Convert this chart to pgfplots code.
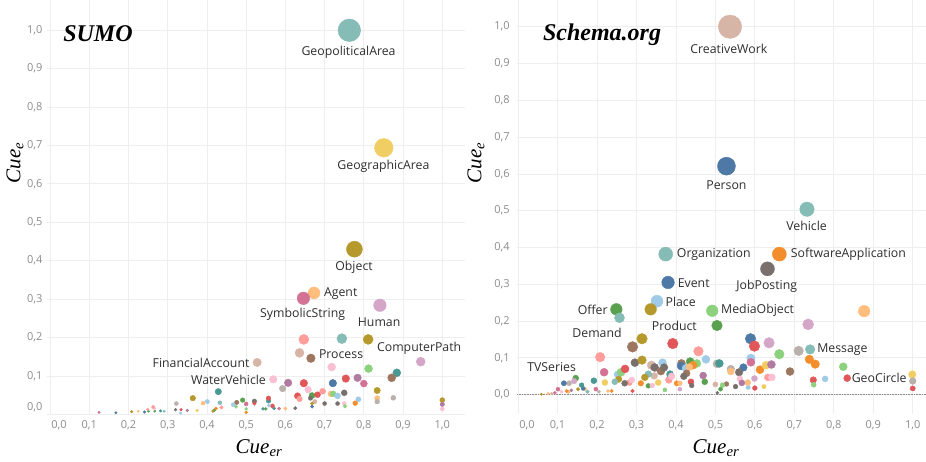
\documentclass[border=0pt]{standalone}
\usepackage{pgfplots}
\usepackage{pgfplotstable}
\pgfplotsset{compat=1.18}
\usepackage{fontspec}
\setmainfont{Open Sans}
\newfontfamily\serif{Liberation Serif}
\definecolor{tickc}{HTML}{8C8C8C}
\definecolor{labc}{HTML}{2E2E2E}
\definecolor{gridc}{HTML}{EEEEEE}

\pgfplotstableread{
x y r c
0.763 1.000 11.3 9
0.851 0.694 9.3 7
0.776 0.430 8 6
0.673 0.316 6 3
0.646 0.302 6.3 14
0.841 0.284 6.3 17
0.647 0.195 5 11
0.744 0.197 5 9
0.811 0.195 5 6
0.945 0.137 4.5 17
0.636 0.160 4.5 19
0.665 0.146 4.3 18
0.528 0.135 4.2 19
0.718 0.123 4 15
0.812 0.119 4 5
0.884 0.108 4 8
0.871 0.095 4 18
0.569 0.091 3.8 15
0.607 0.082 3.8 16
0.647 0.081 3.8 10
0.721 0.081 3.8 0
0.754 0.093 3.8 10
0.784 0.095 3.8 16
0.800 0.080 3.5 14
0.593 0.067 3.3 13
0.658 0.064 3.3 15
0.631 0.048 3.2 10
0.636 0.040 2.8 11
0.668 0.049 3 4
0.682 0.051 3 10
0.695 0.060 3 11
0.716 0.053 3 3
0.722 0.053 3 5
0.733 0.048 3 1
0.750 0.056 3 12
0.834 0.062 3.2 6
0.429 0.059 3.2 8
0.364 0.042 2.8 6
0.875 0.043 2.5 13
0.834 0.042 2.6 3
0.834 0.033 2.4 13
0.786 0.039 2.6 1
0.778 0.029 2.4 2
0.733 0.028 2 12
0.700 0.028 2 12
0.750 0.028 2 15
0.752 0.021 1.8 5
0.675 0.033 2.2 19
0.668 0.028 1.8 6
0.668 0.020 1.6 0
0.664 0.042 2.2 12
0.625 0.016 1.7 12
0.600 0.015 1.7 3
0.584 0.015 1.6 14
0.571 0.016 1.6 8
0.550 0.014 1.5 4
0.543 0.014 1.5 8
0.567 0.022 2 10
0.558 0.023 1.8 1
0.557 0.035 2.3 8
0.557 0.042 2.3 10
0.521 0.034 2.3 12
0.521 0.028 1.8 10
0.500 0.027 2 14
0.500 0.005 1.5 2
0.500 0.014 1.5 5
0.491 0.037 2.3 4
0.474 0.020 1.8 5
0.476 0.031 2.2 18
0.467 0.025 2 1
0.437 0.018 1.8 11
0.433 0.030 2 9
0.423 0.015 1.7 2
0.418 0.010 1.6 4
0.415 0.008 1.3 6
0.401 0.033 2.2 1
0.390 0.029 2 3
0.375 0.010 1.4 7
0.350 0.010 1.4 16
0.334 0.012 1.4 10
0.333 0.003 1.4 1
0.322 0.028 2 13
0.320 0.012 1.4 12
0.291 0.008 1.2 9
0.282 0.009 1.3 8
0.267 0.008 1.2 4
0.266 0.015 1.5 15
0.263 0.019 1.8 11
0.251 0.008 1.2 4
0.249 0.013 1.3 11
0.241 0.006 1.3 0
0.225 0.008 1.2 3
0.208 0.007 1.3 6
0.168 0.004 1.2 0
0.125 0.005 1.2 14
1.000 0.037 2.5 6
1.000 0.026 2.2 16
1.000 0.014 2.0 15
}\sumodata

\pgfplotstableread{
x y r c
0.537 1.000 11.7 19
0.528 0.621 9 0
0.732 0.504 7.2 9
0.374 0.382 7 9
0.662 0.382 7 2
0.632 0.342 7 12
0.380 0.305 6.3 0
0.352 0.254 6 1
0.336 0.232 5.8 6
0.249 0.232 5.8 4
0.257 0.209 5 9
0.492 0.228 5.8 5
0.504 0.188 5.3 4
0.877 0.227 5.8 3
0.735 0.191 5.5 17
0.314 0.152 5.3 6
0.290 0.130 5.3 18
0.392 0.139 5.3 10
0.589 0.152 5.3 0
0.599 0.132 5.3 10
0.636 0.141 5.3 17
0.457 0.118 4.8 11
0.662 0.110 4.8 5
0.711 0.119 4.8 13
0.740 0.123 4.8 9
0.738 0.096 4.3 2
0.753 0.083 4.3 2
0.824 0.076 4 5
0.689 0.063 4 18
0.834 0.045 3.5 10
0.778 0.043 3 1
0.748 0.040 3.3 10
0.749 0.027 2.5 5
0.999 0.055 3.8 7
1.000 0.037 3.4 13
1.000 0.017 2.6 10
0.208 0.102 4.8 11
0.218 0.061 4 14
0.253 0.055 3.8 1
0.261 0.061 4 5
0.271 0.070 4 10
0.296 0.087 4 12
0.314 0.094 4.3 6
0.338 0.080 4.3 19
0.346 0.074 4 12
0.366 0.087 4 1
0.362 0.064 4 18
0.370 0.074 3.8 12
0.414 0.085 4 18
0.413 0.078 4 0
0.425 0.072 3.8 1
0.436 0.090 4 4
0.453 0.085 4 5
0.443 0.080 4 2
0.434 0.075 3.5 3
0.476 0.096 4 1
0.504 0.084 4 13
0.510 0.085 4 8
0.539 0.070 3.8 13
0.539 0.063 3.5 3
0.571 0.074 3.8 0
0.560 0.061 3.8 12
0.590 0.099 4.2 1
0.590 0.088 4 14
0.613 0.068 4 2
0.628 0.080 4 7
0.642 0.082 4 16
0.633 0.047 3.5 11
0.643 0.047 3.5 15
0.599 0.044 3 17
0.600 0.018 2.4 10
0.623 0.022 2.2 7
0.583 0.020 2.2 1
0.582 0.033 3 3
0.562 0.043 3 15
0.567 0.032 3 16
0.551 0.022 2.4 12
0.528 0.029 2.4 18
0.518 0.026 2.4 5
0.513 0.015 2 4
0.500 0.028 2.6 19
0.505 0.005 1.5 12
0.469 0.052 3.5 16
0.473 0.035 3 4
0.438 0.035 3 10
0.440 0.025 2.4 12
0.427 0.058 3.5 18
0.420 0.050 3.4 12
0.402 0.031 2.6 2
0.410 0.031 2.4 3
0.410 0.015 2 17
0.382 0.040 3.4 11
0.385 0.056 3.5 8
0.389 0.050 3.4 15
0.372 0.013 2 5
0.355 0.033 3 7
0.345 0.051 3.4 19
0.330 0.056 3.4 9
0.321 0.047 3.4 6
0.330 0.024 2.4 4
0.340 0.025 2.4 15
0.311 0.031 2.8 2
0.282 0.033 3 11
0.288 0.040 3 15
0.270 0.031 3 12
0.290 0.010 1.8 10
0.255 0.042 3.2 6
0.245 0.035 3 9
0.237 0.010 1.8 2
0.220 0.033 3 7
0.228 0.010 1.6 3
0.197 0.015 2 14
0.205 0.008 1.6 13
0.192 0.038 3 8
0.176 0.008 1.8 9
0.170 0.015 1.8 3
0.165 0.017 2 0
0.161 0.026 2.4 8
0.152 0.015 1.8 6
0.146 0.045 3 4
0.142 0.037 2.8 17
0.129 0.031 2.6 13
0.127 0.008 1.8 3
0.123 0.010 1.8 2
0.116 0.031 2.6 0
0.101 0.015 2 14
0.093 0.005 1.6 14
0.085 0.003 1.4 19
0.076 0.003 1.3 3
0.059 0.001 1.2 6
0.110 0.008 1.5 15
0.135 0.012 1.6 16
}\schemadata

\tikzset{lbl/.style={font=\fontsize{12.3}{14}\selectfont, text=labc, inner sep=0pt}}

\pgfplotsset{
  tab/.style={
    scale only axis,
    axis line style={draw=none},
    tick style={draw=none},
    grid=major,
    major grid style={draw=gridc, line width=0.8pt},
    xtick={0,0.1,0.2,0.3,0.4,0.5,0.6,0.7,0.8,0.9,1},
    ytick={0,0.1,0.2,0.3,0.4,0.5,0.6,0.7,0.8,0.9,1},
    tick label style={font=\fontsize{11}{12}\selectfont, text=tickc},
    /pgf/number format/.cd, fixed, fixed zerofill, precision=1, use comma, assume math mode=true,
    /pgfplots/.cd,
    xticklabel={\pgfmathparse{\tick<0.05}\ifnum\pgfmathresult=1 \hspace*{18pt}\fi\pgfmathprintnumber{\tick}},
    clip=false,
    colormap={tab20}{rgb255=(78,121,167) rgb255=(160,203,232) rgb255=(242,142,43) rgb255=(255,190,125) rgb255=(89,161,79) rgb255=(140,209,125) rgb255=(182,153,45) rgb255=(241,206,99) rgb255=(73,152,148) rgb255=(134,188,182) rgb255=(225,87,89) rgb255=(255,157,154) rgb255=(121,112,110) rgb255=(186,176,172) rgb255=(211,114,149) rgb255=(250,191,210) rgb255=(176,122,161) rgb255=(212,166,200) rgb255=(157,118,96) rgb255=(215,181,166)},
    point meta min=0, point meta max=19,
  },
  dots/.style={scatter, only marks, mark=*,
    point meta=explicit,
    scatter/use mapped color={draw=mapped color, fill=mapped color},
    visualization depends on={\thisrow{r}\as\rad},
    scatter/@pre marker code/.append style={/tikz/mark size=\rad}},
}

\begin{document}
\begin{tikzpicture}
\path[use as bounding box] (0,0) rectangle (926pt,461pt);

\begin{axis}[tab,
  at={(47pt,46.7pt)}, anchor=south west,
  width=418pt, height=414.3pt,
  xmin=-0.0077, xmax=1.0579, ymin=0, ymax=1.0789,
  yticklabel style={anchor=east, xshift=-1pt},
  yticklabel={\pgfmathparse{\tick<0.05}\ifnum\pgfmathresult=1 \raisebox{15pt}{\pgfmathprintnumber{\tick}}\else\pgfmathprintnumber{\tick}\fi},
  xticklabel style={yshift=-3pt},
]
\addplot[dots] table[x=x, y=y, meta=c] {\sumodata};
\node[lbl] at (axis cs:0.761,0.943) {GeopoliticalArea};
\node[lbl] at (axis cs:0.850,0.645) {GeographicArea};
\node[lbl] at (axis cs:0.775,0.383) {Object};
\node[lbl] at (axis cs:0.741,0.315) {Agent};
\node[lbl] at (axis cs:0.644,0.260) {SymbolicString};
\node[lbl] at (axis cs:0.839,0.241) {Human};
\node[lbl] at (axis cs:0.941,0.173) {ComputerPath};
\node[lbl] at (axis cs:0.742,0.157) {Process};
\node[lbl] at (axis cs:0.385,0.134) {FinancialAccount};
\node[lbl] at (axis cs:0.455,0.089) {WaterVehicle};
\end{axis}

\begin{axis}[tab,
  at={(517.1pt,46.7pt)}, anchor=south west,
  width=408.9pt, height=414.3pt,
  xmin=-0.0025, xmax=1.0337, ymin=-0.0533, ymax=1.0726,
  yticklabel style={anchor=east, xshift=-4pt},
  xticklabel style={yshift=-3pt},
]
\draw[tickc, densely dotted, line width=0.6pt] (axis cs:-0.0025,0) -- (axis cs:1.0337,0);
\addplot[dots] table[x=x, y=y, meta=c] {\schemadata};
\node[lbl] at (axis cs:0.534,0.941) {CreativeWork};
\node[lbl] at (axis cs:0.528,0.570) {Person};
\node[lbl] at (axis cs:0.731,0.458) {Vehicle};
\node[lbl] at (axis cs:0.496,0.382) {Organization};
\node[lbl] at (axis cs:0.837,0.381) {SoftwareApplication};
\node[lbl] at (axis cs:0.445,0.303) {Event};
\node[lbl] at (axis cs:0.630,0.295) {JobPosting};
\node[lbl] at (axis cs:0.412,0.253) {Place};
\node[lbl] at (axis cs:0.189,0.230) {Offer};
\node[lbl] at (axis cs:0.607,0.228) {MediaObject};
\node[lbl] at (axis cs:0.396,0.188) {Product};
\node[lbl] at (axis cs:0.200,0.167) {Demand};
\node[lbl] at (axis cs:0.822,0.123) {Message};
\node[lbl] at (axis cs:0.085,0.076) {TVSeries};
\node[lbl] at (axis cs:0.915,0.045) {GeoCircle};
\end{axis}

\node at (98pt,427pt) {\serif\bfseries\itshape\fontsize{24}{26}\selectfont SUMO};
\node at (602pt,426pt) {\serif\bfseries\itshape\fontsize{24}{26}\selectfont Schema.org};
\node[rotate=90] at (15pt,298pt) {\serif\itshape\fontsize{21}{23}\selectfont Cue\textsubscript{e}};
\node[rotate=90] at (476pt,298pt) {\serif\itshape\fontsize{21}{23}\selectfont Cue\textsubscript{e}};
\node at (259pt,13pt) {\serif\itshape\fontsize{21}{23}\selectfont Cue\textsubscript{er}};
\node at (716pt,13pt) {\serif\itshape\fontsize{21}{23}\selectfont Cue\textsubscript{er}};
\end{tikzpicture}
\end{document}
